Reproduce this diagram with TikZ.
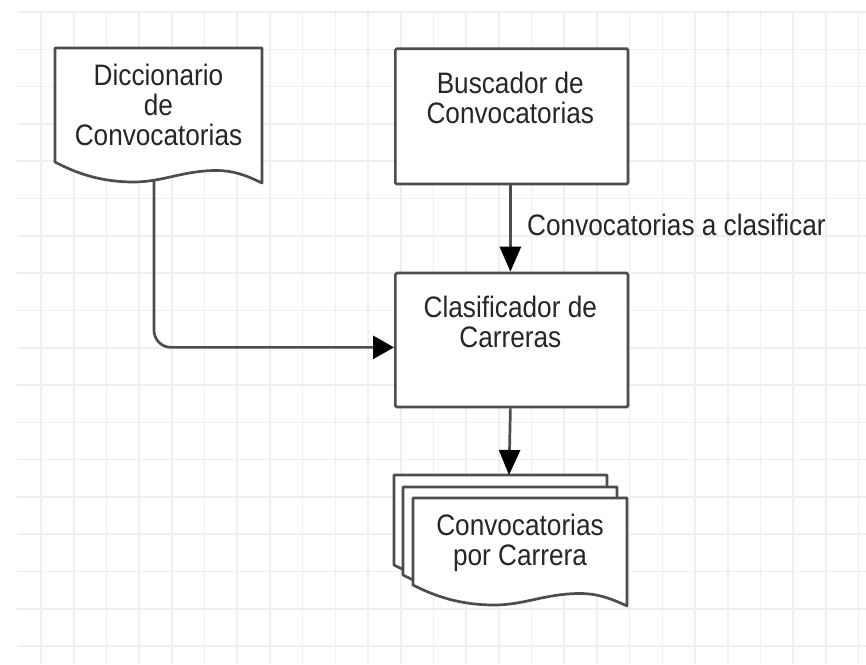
\documentclass[tikz,border=0pt]{standalone}
\usepackage{fontspec}
\setmainfont{Liberation Sans}[FakeStretch=0.885]
\usetikzlibrary{arrows.meta}
\definecolor{gridc}{HTML}{EFEFEF}
\definecolor{linec}{HTML}{4D4D4D}
\newcommand{\drawdoc}[5][]{%
  \pgfmathsetmacro{\docw}{#4-#2}%
  \draw[docline,#1] (#2,#3) -- (#4,#3) -- (#4,#5)
    .. controls ({#4-0.08*\docw},{#5-8}) and ({#2+0.86*\docw},{#5-12.5}) .. ({#2+0.78*\docw},{#5-12.5})
    .. controls ({#2+0.62*\docw},{#5-12.5}) and ({#2+0.52*\docw},{#5-1}) .. ({#2+0.38*\docw},{#5-1})
    .. controls ({#2+0.22*\docw},{#5-1}) and ({#2+0.1*\docw},{#5-10}) .. (#2,{#5-21})
    -- cycle;}
\begin{document}
\begin{tikzpicture}[x=1pt,y=-1pt,
  gridline/.style={draw=gridc, line width=1.6pt},
  docline/.style={draw=linec, line width=2.7pt, fill=white, line join=round},
  box/.style={draw=linec, line width=2.7pt, fill=white, rounded corners=1.5pt, inner sep=0pt},
  txt/.style={font=\fontsize{29.6}{30}\selectfont, align=center, inner sep=0pt, text=black!85},
  conn/.style={draw=linec, line width=2.7pt},
  vtip/.style={-{Triangle[length=25pt,width=21pt,color=black]}},
  htip/.style={-{Triangle[length=21pt,width=23pt,color=black]}}]
\useasboundingbox (0,0) rectangle (866,664);
\fill[white] (0,0) rectangle (866,664);
% grid
\foreach \i in {0,...,25} {\draw[gridline] ({41+32.7*\i},12) -- ({41+32.7*\i},664);}
\foreach \j in {0,...,17} {\draw[gridline] (17,{12+37.3*\j}) -- (866,{12+37.3*\j});}
% document: Diccionario
\drawdoc{55}{48}{262}{183}
\node[txt, anchor=base] (dic) at (158.5,145) {Diccionario\\de\\Convocatorias};
\coordinate (dicout) at (154,181);
% boxes
\node[box, anchor=north west, minimum width=232.7pt, minimum height=135.4pt] (busc) at (394,47.3) {};
\node[txt, anchor=base] (buscT) at (510.3,123.5) {Buscador de\\Convocatorias};
\node[box, anchor=north west, minimum width=232.7pt, minimum height=134pt] (clas) at (394,271.7) {};
\node[txt, anchor=base] (clasT) at (510.3,347.3) {Clasificador de\\Carreras};
% multi document
\drawdoc{394}{475}{607}{586}
\drawdoc{403}{487}{617}{596}
\drawdoc{413}{498}{627}{606}
\coordinate (mdtop) at (509,475);
\node[txt, anchor=base] (mdoc) at (520,565) {Convocatorias\\por Carrera};
% connectors
\draw[conn, vtip] ([xshift=-1.3pt]busc.south) -- ([xshift=-1.3pt]clas.north);
\node[txt, anchor=base west] (labT) at (527,235) {Convocatorias a clasificar};
\draw[conn, vtip] ([xshift=-1.3pt]clas.south) -- (mdtop);
\draw[conn, htip, rounded corners=17pt] (dicout) |- ([yshift=-7.3pt]clas.west);
\end{tikzpicture}
\end{document}
